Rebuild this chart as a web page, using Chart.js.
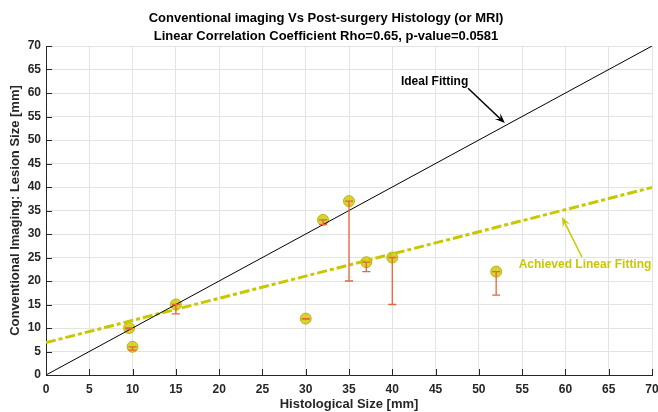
<!DOCTYPE html>
<html><head><meta charset="utf-8">
<script src="https://cdn.jsdelivr.net/npm/chart.js@4"></script>
<style>html,body{margin:0;padding:0;background:#fff}#wrap{width:658px;height:412px}</style>
</head><body><div id="wrap"><canvas id="c" width="658" height="412"></canvas></div>
<script>
// ---- data ----
const histSize = [9.6, 10, 15, 30, 32, 35, 37, 40, 52];   // Histological Size [mm]
const imgSize  = [10, 6, 15, 12, 33, 37, 24, 25, 22];     // Conventional imaging size [mm]
const imgLower = [9.8, 5.3, 13, 11.9, 32, 20, 22, 15, 17]; // lower end of error bars
const idealX = [0, 70];
const idealY = [0, 70];
const fitX = [0, 70];
const fitY = [6.9, 39.9];
const axisTicks = [0,5,10,15,20,25,30,35,40,45,50,55,60,65,70];
const titleLines = ['Conventional imaging Vs Post-surgery Histology (or MRI)',
                    'Linear Correlation Coefficient Rho=0.65, p-value=0.0581'];

const FONT = '"Liberation Sans", Arial, sans-serif';
const FIT_COLOR = 'rgb(200,200,0)';
const ERR_COLOR = 'rgb(232,100,58)';

const overlay = {
  id: 'overlay',
  afterDatasetsDraw(chart) {
    const {ctx, scales: {x, y}, chartArea: a} = chart;
    ctx.save();
    // error bars
    ctx.strokeStyle = ERR_COLOR; ctx.lineWidth = 1.3;
    histSize.forEach((hx, i) => {
      const px = x.getPixelForValue(hx);
      const pt = y.getPixelForValue(imgSize[i]);
      const pb = y.getPixelForValue(imgLower[i]);
      ctx.beginPath();
      ctx.moveTo(px, pt); ctx.lineTo(px, pb);
      ctx.moveTo(px - 4, pt); ctx.lineTo(px + 4, pt);
      ctx.moveTo(px - 4, pb); ctx.lineTo(px + 4, pb);
      ctx.stroke();
    });
    // inner tick marks
    ctx.strokeStyle = '#262626'; ctx.lineWidth = 1;
    axisTicks.forEach(t => {
      const px = Math.round(x.getPixelForValue(t)) + 0.5;
      ctx.beginPath(); ctx.moveTo(px, a.bottom); ctx.lineTo(px, a.bottom - 6); ctx.stroke();
      const py = Math.round(y.getPixelForValue(t)) + 0.5;
      ctx.beginPath(); ctx.moveTo(a.left, py); ctx.lineTo(a.left + 6, py); ctx.stroke();
    });
    // annotations
    function arrow(x1, y1, x2, y2, color) {
      const X1 = x.getPixelForValue(x1), Y1 = y.getPixelForValue(y1);
      const X2 = x.getPixelForValue(x2), Y2 = y.getPixelForValue(y2);
      const ang = Math.atan2(Y2 - Y1, X2 - X1);
      const hl = 10, hw = 4;
      ctx.strokeStyle = color; ctx.fillStyle = color; ctx.lineWidth = 1.5;
      ctx.beginPath(); ctx.moveTo(X1, Y1);
      ctx.lineTo(X2 - Math.cos(ang) * hl * 0.6, Y2 - Math.sin(ang) * hl * 0.6); ctx.stroke();
      ctx.beginPath();
      ctx.moveTo(X2, Y2);
      ctx.lineTo(X2 - hl * Math.cos(ang) + hw * Math.sin(ang), Y2 - hl * Math.sin(ang) - hw * Math.cos(ang));
      ctx.lineTo(X2 - hl * 0.6 * Math.cos(ang), Y2 - hl * 0.6 * Math.sin(ang));
      ctx.lineTo(X2 - hl * Math.cos(ang) - hw * Math.sin(ang), Y2 - hl * Math.sin(ang) + hw * Math.cos(ang));
      ctx.closePath(); ctx.fill();
    }
    ctx.font = 'bold 12px ' + FONT;
    ctx.textBaseline = 'middle'; ctx.textAlign = 'left';
    ctx.fillStyle = '#000';
    ctx.fillText('Ideal Fitting', x.getPixelForValue(41.0), y.getPixelForValue(62.4));
    arrow(48.75, 61.0, 53.0, 53.6, '#000');
    ctx.fillStyle = FIT_COLOR;
    ctx.fillText('Achieved Linear Fitting', x.getPixelForValue(54.6), y.getPixelForValue(23.5));
    arrow(61.9, 25.1, 59.6, 33.6, FIT_COLOR);
    ctx.restore();
  }
};

new Chart(document.getElementById('c'), {
  type: 'scatter',
  data: {
    datasets: [
      {
        type: 'line', label: 'Ideal Fitting',
        data: idealX.map((v, i) => ({x: v, y: idealY[i]})),
        borderColor: '#000', borderWidth: 1, pointRadius: 0, fill: false
      },
      {
        type: 'line', label: 'Achieved Linear Fitting',
        data: fitX.map((v, i) => ({x: v, y: fitY[i]})),
        borderColor: FIT_COLOR, borderWidth: 3, borderDash: [10, 3, 4, 3],
        pointRadius: 0, fill: false
      },
      {
        label: 'Lesions',
        data: histSize.map((v, i) => ({x: v, y: imgSize[i]})),
        pointRadius: 5.5, pointBackgroundColor: 'rgba(205,200,0,0.8)',
        pointBorderColor: 'rgba(180,175,0,0.9)', pointBorderWidth: 1
      }
    ]
  },
  options: {
    responsive: false, animation: false,
    layout: {autoPadding: false, padding: {top: 9, right: 6, left: 0, bottom: 0}},
    plugins: {
      legend: {display: false}, tooltip: {enabled: false},
      title: {display: true, text: titleLines, color: '#000',
              font: {family: FONT, size: 13, weight: 'bold', lineHeight: 18 / 13},
              padding: {top: 0, bottom: 1}}
    },
    scales: {
      x: {
        type: 'linear', min: 0, max: 70,
        afterBuildTicks: s => { s.ticks = axisTicks.map(v => ({value: v})); },
        afterFit: s => { s.height = 37; s.paddingLeft = 0; s.paddingRight = 0; },
        grid: {color: '#e3e3e3', drawTicks: false},
        border: {color: '#262626', width: 1},
        ticks: {color: '#262626', font: {family: FONT, size: 12, weight: 'bold'}, padding: 7, maxRotation: 0},
        title: {display: true, text: 'Histological Size [mm]', color: '#262626',
                font: {family: FONT, size: 13, weight: 'bold'}, padding: {top: 1, bottom: 0}}
      },
      y: {
        type: 'linear', min: 0, max: 70,
        afterBuildTicks: s => { s.ticks = axisTicks.map(v => ({value: v})); },
        afterFit: s => { s.width = 46; s.paddingTop = 0; s.paddingBottom = 0; },
        grid: {color: '#e3e3e3', drawTicks: false},
        border: {color: '#262626', width: 1},
        ticks: {color: '#262626', font: {family: FONT, size: 12, weight: 'bold'}, padding: 5},
        title: {display: true, text: 'Conventional Imaging: Lesion Size [mm]', color: '#262626',
                font: {family: FONT, size: 13, weight: 'bold'}, padding: {top: 8, bottom: 0}}
      }
    }
  },
  plugins: [overlay]
});
</script></body></html>
